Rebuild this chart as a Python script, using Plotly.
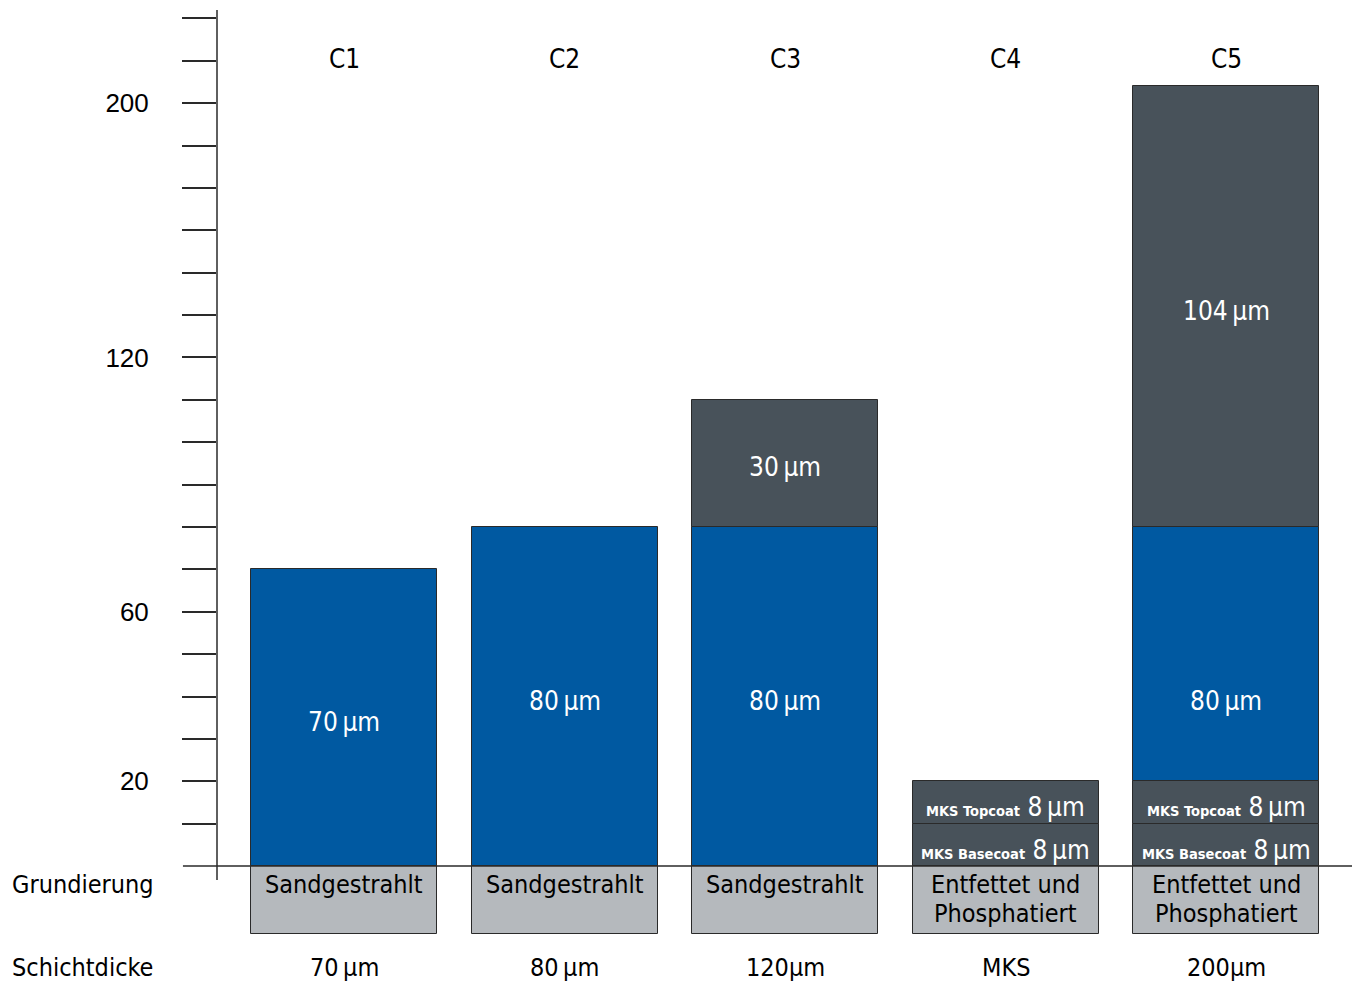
import plotly.graph_objects as go

# ---- data (drawn units of the schematic axis) ----
categories = ["C1", "C2", "C3", "C4", "C5"]
primer_depth = [-16, -16, -16, -16, -16]
primer_labels = ["Sandgestrahlt", "Sandgestrahlt", "Sandgestrahlt",
                 "Entfettet und<br>Phosphatiert", "Entfettet und<br>Phosphatiert"]
basecoat = [None, None, None, 10, 10]
topcoat = [None, None, None, 10, 10]
blue_layer = [70, 80, 80, None, 60]
dark_layer = [None, None, 30, None, 104]
blue_labels = ["70\u2009µm", "80\u2009µm", "80\u2009µm", None, "80\u2009µm"]
dark_labels = [None, None, "30\u2009µm", None, "104\u2009µm"]
base_labels = [None, None, None, "MKS Basecoat", "MKS Basecoat"]
top_labels = [None, None, None, "MKS Topcoat", "MKS Topcoat"]
mks_value = "8\u2009µm"
thickness_labels = ["70\u2009µm", "80\u2009µm", "120µm", "MKS", "200µm"]
tick_vals = list(range(10, 201, 10))
tick_text_map = {20: "20", 60: "60", 120: "120", 180: "200"}
row_labels = ["Grundierung", "Schichtdicke"]

BLUE = "#0059A1"
DARK = "#48525A"
LIGHT = "#B5B9BD"
EDGE = "#2a2a2a"
FONT = "Liberation Sans Narrow, DejaVu Sans Condensed, Arial Narrow, sans-serif"
BAR_W = 0.8435

fig = go.Figure()

def add_bar(vals, color, name):
    fig.add_trace(go.Bar(x=categories, y=vals, marker=dict(color=color, line=dict(color=EDGE, width=1)),
                         width=BAR_W, name=name, showlegend=False, hoverinfo="skip"))

add_bar(primer_depth, LIGHT, "Grundierung")
add_bar(basecoat, DARK, "MKS Basecoat")
add_bar(topcoat, DARK, "MKS Topcoat")
add_bar(blue_layer, BLUE, "Grundbeschichtung")
add_bar(dark_layer, DARK, "Deckschicht")

annotations = []
for i, c in enumerate(categories):
    base = 0.0
    # MKS layers
    for v, lab in [(basecoat[i], base_labels[i]), (topcoat[i], top_labels[i])]:
        if v is None:
            continue
        txt = f"<b><span style='font-size:14.5px'>{lab}</span></b> {mks_value}"
        annotations.append(dict(x=c, y=base + v / 2, text=txt, showarrow=False, yshift=-5,
                                font=dict(family=FONT, size=26, color="white"),
                                xanchor="center", yanchor="middle"))
        base += v
    # blue layer: label centred on the nominal thickness measured from the substrate
    if blue_layer[i] is not None:
        top = base + blue_layer[i]
        annotations.append(dict(x=c, y=top / 2, text=blue_labels[i], showarrow=False, yshift=-4,
                                font=dict(family=FONT, size=26, color="white"),
                                xanchor="center", yanchor="middle"))
        base = top
    if dark_layer[i] is not None:
        annotations.append(dict(x=c, y=base + dark_layer[i] / 2, text=dark_labels[i], showarrow=False,
                                yshift=-4, font=dict(family=FONT, size=26, color="white"),
                                xanchor="center", yanchor="middle"))
        base += dark_layer[i]
    # primer text (one annotation per line)
    for j, line in enumerate(primer_labels[i].split("<br>")):
        annotations.append(dict(x=c, y=0, text=line, showarrow=False,
                                font=dict(family=FONT, size=25, color="black"),
                                xanchor="center", yanchor="middle", yshift=-18 - 29.5 * j))
    # thickness row
    annotations.append(dict(x=c, y=0, text=thickness_labels[i], showarrow=False, yshift=-101,
                            font=dict(family=FONT, size=25, color="black"),
                            xanchor="center", yanchor="middle"))
    # category header
    annotations.append(dict(x=c, y=190.4, text=c, showarrow=False,
                            font=dict(family=FONT, size=26, color="black"),
                            xanchor="center", yanchor="middle"))

annotations.append(dict(x=-0.1825, xref="paper", y=0, yshift=-18, text=row_labels[0], showarrow=False,
                        font=dict(family=FONT, size=25, color="black"), xanchor="left", yanchor="middle"))
annotations.append(dict(x=-0.1825, xref="paper", y=0, yshift=-101, text=row_labels[1], showarrow=False,
                        font=dict(family=FONT, size=25, color="black"), xanchor="left", yanchor="middle"))

shapes = [
    dict(type="line", xref="paper", yref="y", x0=0, x1=0, y0=-3.3, y1=202, line=dict(color=EDGE, width=1.5), layer="above"),
    dict(type="line", xref="paper", yref="y", x0=-0.03, x1=1.0, y0=0, y1=0, line=dict(color=EDGE, width=1.5), layer="above"),
]

fig.update_layout(
    width=1360, height=982,
    margin=dict(l=217, r=8, t=10, b=2),
    plot_bgcolor="white", paper_bgcolor="white",
    barmode="relative", bargap=0,
    annotations=annotations, shapes=shapes,
    xaxis=dict(range=[-0.576, 4.571], showticklabels=False, showgrid=False, zeroline=False,
               showline=False, ticks=""),
    yaxis=dict(range=[-26.9, 202.0], showgrid=False, zeroline=False, showline=False,
               tickmode="array", tickvals=tick_vals,
               ticktext=[tick_text_map.get(v, "") for v in tick_vals],
               ticks="outside", ticklen=34, tickwidth=1.5, tickcolor=EDGE,
               ticklabelstandoff=28, automargin=False,
               tickfont=dict(family="Liberation Sans, Arial, sans-serif", size=26, color="black")),
)

fig.write_html("out.html", config={"displayModeBar": False},
               post_script="document.body.style.margin='0px';")
